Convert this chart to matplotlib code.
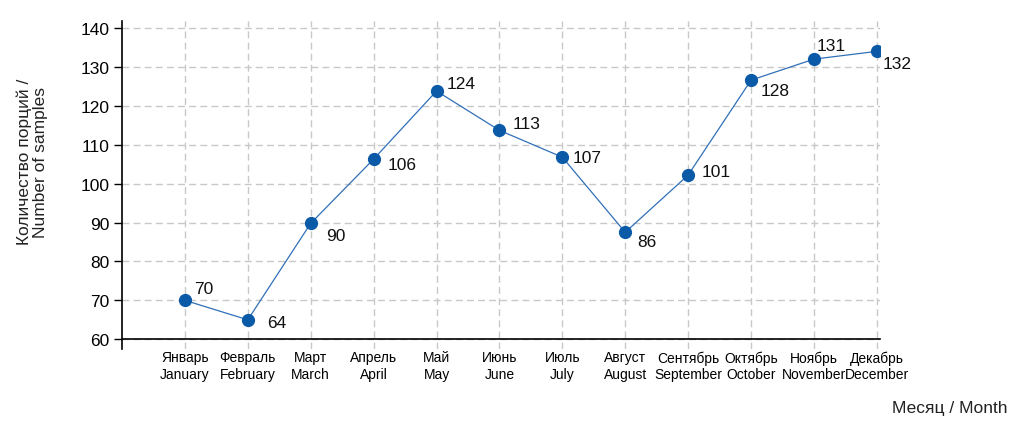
import matplotlib
matplotlib.use('Agg')
import matplotlib.pyplot as plt
from matplotlib import font_manager as fm

months_ru = ['Январь', 'Февраль', 'Март', 'Апрель', 'Май', 'Июнь',
             'Июль', 'Август', 'Сентябрь', 'Октябрь', 'Ноябрь', 'Декабрь']
months_en = ['January', 'February', 'March', 'April', 'May', 'June',
             'July', 'August', 'September', 'October', 'November', 'December']
# plotted positions
samples = [70, 65, 89.8, 106.3, 123.8, 113.7, 106.8, 87.5, 102.2, 126.6, 132, 134]
# printed labels
sample_labels = ['70', '64', '90', '106', '124', '113', '107', '86', '101', '128', '131', '132']
y_ticks = [60, 70, 80, 90, 100, 110, 120, 130, 140]

# label offsets in pixels (dx, dy down)
offs = [(9, -12), (19, 3), (15, 12), (14, 5), (10, -8), (13, -7),
        (10, 0), (12, 9), (13, -4), (10, 10), (3, -14), (6, 12)]

plt.rcParams['font.family'] = ['Liberation Sans', 'DejaVu Sans']

# narrow face for month names, if one is around
installed = {f.name for f in fm.fontManager.ttflist}
narrow = [n for n in ['Liberation Sans Narrow', 'Roboto Condensed', 'PT Sans Narrow',
                      'Fira Sans Condensed', 'Open Sans Condensed'] if n in installed]

fig = plt.figure(figsize=(10.24, 4.31), dpi=100)
ax = fig.add_axes([122/1024, (431-350)/431, (880-122)/1024, (350-22)/431])

x = list(range(1, 13))
ax.plot(x, samples, color='#3070b8', linewidth=0.9, zorder=3)
ax.plot(x, samples, 'o', color='#0a5aa8', markersize=8.5, zorder=4)

px = 72/100
for xi, yi, lab, (dx, dy) in zip(x, samples, sample_labels, offs):
    ax.annotate(lab, (xi, yi), xytext=(dx*px, -dy*px), textcoords='offset points',
                ha='left', va='center', fontsize=12.5, color='#111111', zorder=5)

ax.set_xlim(0, 12.05)
ax.set_ylim(57.5, 141.8)
ax.set_yticks(y_ticks)
ax.set_xticks(x)
ax.set_xticklabels([r + '\n' + e for r, e in zip(months_ru, months_en)])
ax.tick_params(axis='x', length=0, pad=8)
ax.tick_params(axis='y', length=6, width=1, labelsize=12.5, pad=3)
if narrow:
    mprop = fm.FontProperties(family=narrow[0], size=10.5)
else:
    mprop = fm.FontProperties(family='DejaVu Sans', stretch='condensed', size=9.5)
for t in ax.get_xticklabels():
    t.set_fontproperties(mprop)
    t.set_linespacing(1.55)

ax.grid(True, color='#c8c8c8', linestyle=(0, (5, 3)), linewidth=1.0)
ax.set_axisbelow(True)
for s in ['top', 'right']:
    ax.spines[s].set_visible(False)
ax.spines['bottom'].set_position(('data', 60))
ax.spines['left'].set_linewidth(1.2)
ax.spines['bottom'].set_linewidth(1.2)

fig.text(32/1024, (431-162)/431, 'Количество порций /\nNumber of samples',
         rotation=90, ha='center', va='center', multialignment='center',
         fontsize=12.5, linespacing=1.1, color='#222222')
fig.text(950/1024, (431-409)/431, 'Месяц / Month', ha='center', va='center',
         fontsize=12.5, color='#222222')

fig.savefig('out.png', dpi=100)
